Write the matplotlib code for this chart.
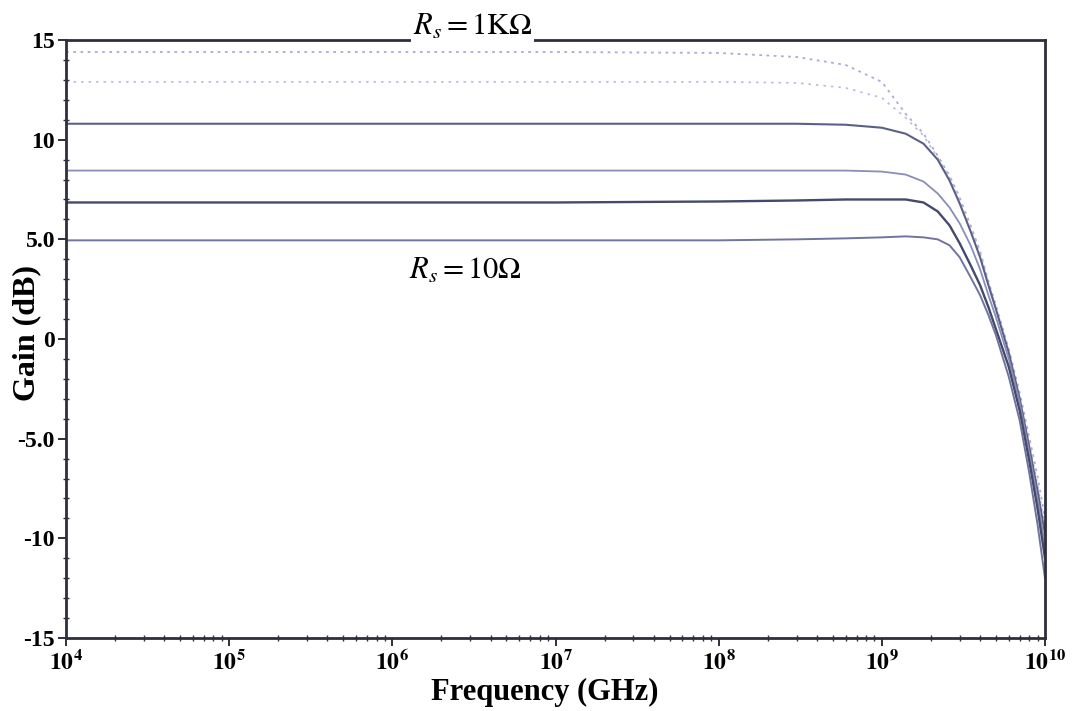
import matplotlib
matplotlib.use("Agg")
import matplotlib.pyplot as plt
from matplotlib.ticker import FixedLocator, LogLocator, NullFormatter

plt.rcParams["mathtext.fontset"] = "stix"
plt.rcParams["font.family"] = ["Liberation Serif", "DejaVu Serif"]

# Frequency grid (Hz) shared by all gain curves
freq = [1e4, 1e5, 1e6, 1e7, 1e8, 3e8, 6e8, 1e9, 1.4e9, 1.8e9, 2.2e9, 2.6e9,
        3e9, 3.5e9, 4e9, 4.5e9, 5e9, 6e9, 7e9, 8e9, 9e9, 1e10]

# Gain (dB) for each source resistance, from Rs = 1 kOhm (top) to Rs = 10 Ohm (bottom)
gain_rs1 = [14.4, 14.4, 14.4, 14.4, 14.35, 14.15, 13.75, 12.9, 11.3, 10.3, 9.2, 8.2,
            7.1, 5.7, 4.4, 2.9, 1.7, -0.5, -2.7, -4.9, -6.9, -9.0]
gain_rs2 = [12.9, 12.9, 12.9, 12.9, 12.9, 12.85, 12.6, 12.1, 11.1, 10.2, 9.1, 8.1,
            7.0, 5.6, 4.3, 2.8, 1.6, -0.6, -2.9, -5.2, -7.3, -9.4]
gain_rs3 = [10.8, 10.8, 10.8, 10.8, 10.8, 10.8, 10.75, 10.6, 10.3, 9.8, 9.0, 7.95,
            6.8, 5.4, 4.1, 2.7, 1.5, -0.7, -3.0, -5.4, -7.6, -9.8]
gain_rs4 = [8.45, 8.45, 8.45, 8.45, 8.45, 8.45, 8.45, 8.4, 8.25, 7.9, 7.3, 6.6,
            5.8, 4.7, 3.5, 2.2, 1.1, -1.0, -3.2, -5.7, -8.0, -10.4]
gain_rs5 = [6.85, 6.85, 6.85, 6.85, 6.9, 6.95, 7.0, 7.0, 7.0, 6.85, 6.4, 5.7,
            4.8, 3.7, 2.7, 1.6, 0.5, -1.4, -3.6, -6.1, -8.5, -11.0]
gain_rs6 = [4.95, 4.95, 4.95, 4.95, 4.95, 5.0, 5.05, 5.1, 5.15, 5.1, 5.0, 4.7,
            4.1, 3.1, 2.2, 1.2, 0.2, -1.9, -4.1, -6.7, -9.3, -12.0]

curves = [gain_rs1, gain_rs2, gain_rs3, gain_rs4, gain_rs5, gain_rs6]
colors = ["#a9add0", "#b9bcd9", "#5c6088", "#8a8eb6", "#45496a", "#70749e"]
styles = [(0, (1.5, 2.5)), (0, (1.5, 3)), "-", "-", "-", "-"]
widths = [1.3, 1.2, 1.5, 1.3, 1.7, 1.4]

ytick_vals = [-15, -10, -5, 0, 5, 10, 15]
ytick_text = ["-15", "-10", "-5.0", "0", "5.0", "10", "15"]
xtick_vals = [1e4, 1e5, 1e6, 1e7, 1e8, 1e9, 1e10]
xtick_text = [r"$\mathbf{10^{4}}$", r"$\mathbf{10^{5}}$", r"$\mathbf{10^{6}}$",
              r"$\mathbf{10^{7}}$", r"$\mathbf{10^{8}}$", r"$\mathbf{10^{9}}$",
              r"$\mathbf{10^{10}}$"]

fig = plt.figure(figsize=(10.74, 7.11), dpi=100)
ax = fig.add_axes([0.0615, 0.1027, 0.9115, 0.841])

for g, c, ls, lw in zip(curves, colors, styles, widths):
    ax.plot(freq, g, color=c, linestyle=ls, linewidth=lw)

ax.set_xscale("log")
ax.set_xlim(1e4, 1e10)
ax.set_ylim(-15, 15)

ax.xaxis.set_major_locator(FixedLocator(xtick_vals))
ax.set_xticklabels(xtick_text)
ax.xaxis.set_minor_locator(LogLocator(base=10, subs=range(2, 10), numticks=20))
ax.xaxis.set_minor_formatter(NullFormatter())

ax.yaxis.set_major_locator(FixedLocator(ytick_vals))
ax.set_yticklabels(ytick_text)
ax.yaxis.set_minor_locator(FixedLocator(range(-15, 16)))

frame_col = "#2e2f3c"
for s in ax.spines.values():
    s.set_color(frame_col)
    s.set_linewidth(2.0)

ax.tick_params(axis="both", which="major", direction="out", length=6, width=1.4,
               color=frame_col, labelsize=17, pad=2)
ax.tick_params(axis="both", which="minor", direction="inout", length=4, width=1.0,
               color=frame_col)
for lab in ax.get_yticklabels():
    lab.set_fontweight("bold")
ax.tick_params(axis="x", which="major", labelsize=17, pad=3)

ax.set_xlabel("Frequency (GHz)", fontsize=22, fontweight="bold")
ax.xaxis.set_label_coords(0.489, -0.066)
ax.set_ylabel("Gain (dB)", fontsize=23, fontweight="bold")
ax.yaxis.set_label_coords(-0.025, 0.51)

ax.text(3.1e6, 15.65, r"$R_s = 1\mathrm{K}\Omega$", fontsize=22, ha="center",
        va="center", clip_on=False, zorder=5,
        bbox=dict(facecolor="white", edgecolor="none", pad=1))
ax.text(2.8e6, 3.4, r"$R_s = 10\Omega$", fontsize=22, ha="center", va="center")

fig.savefig("out.png", dpi=100, facecolor="white")
